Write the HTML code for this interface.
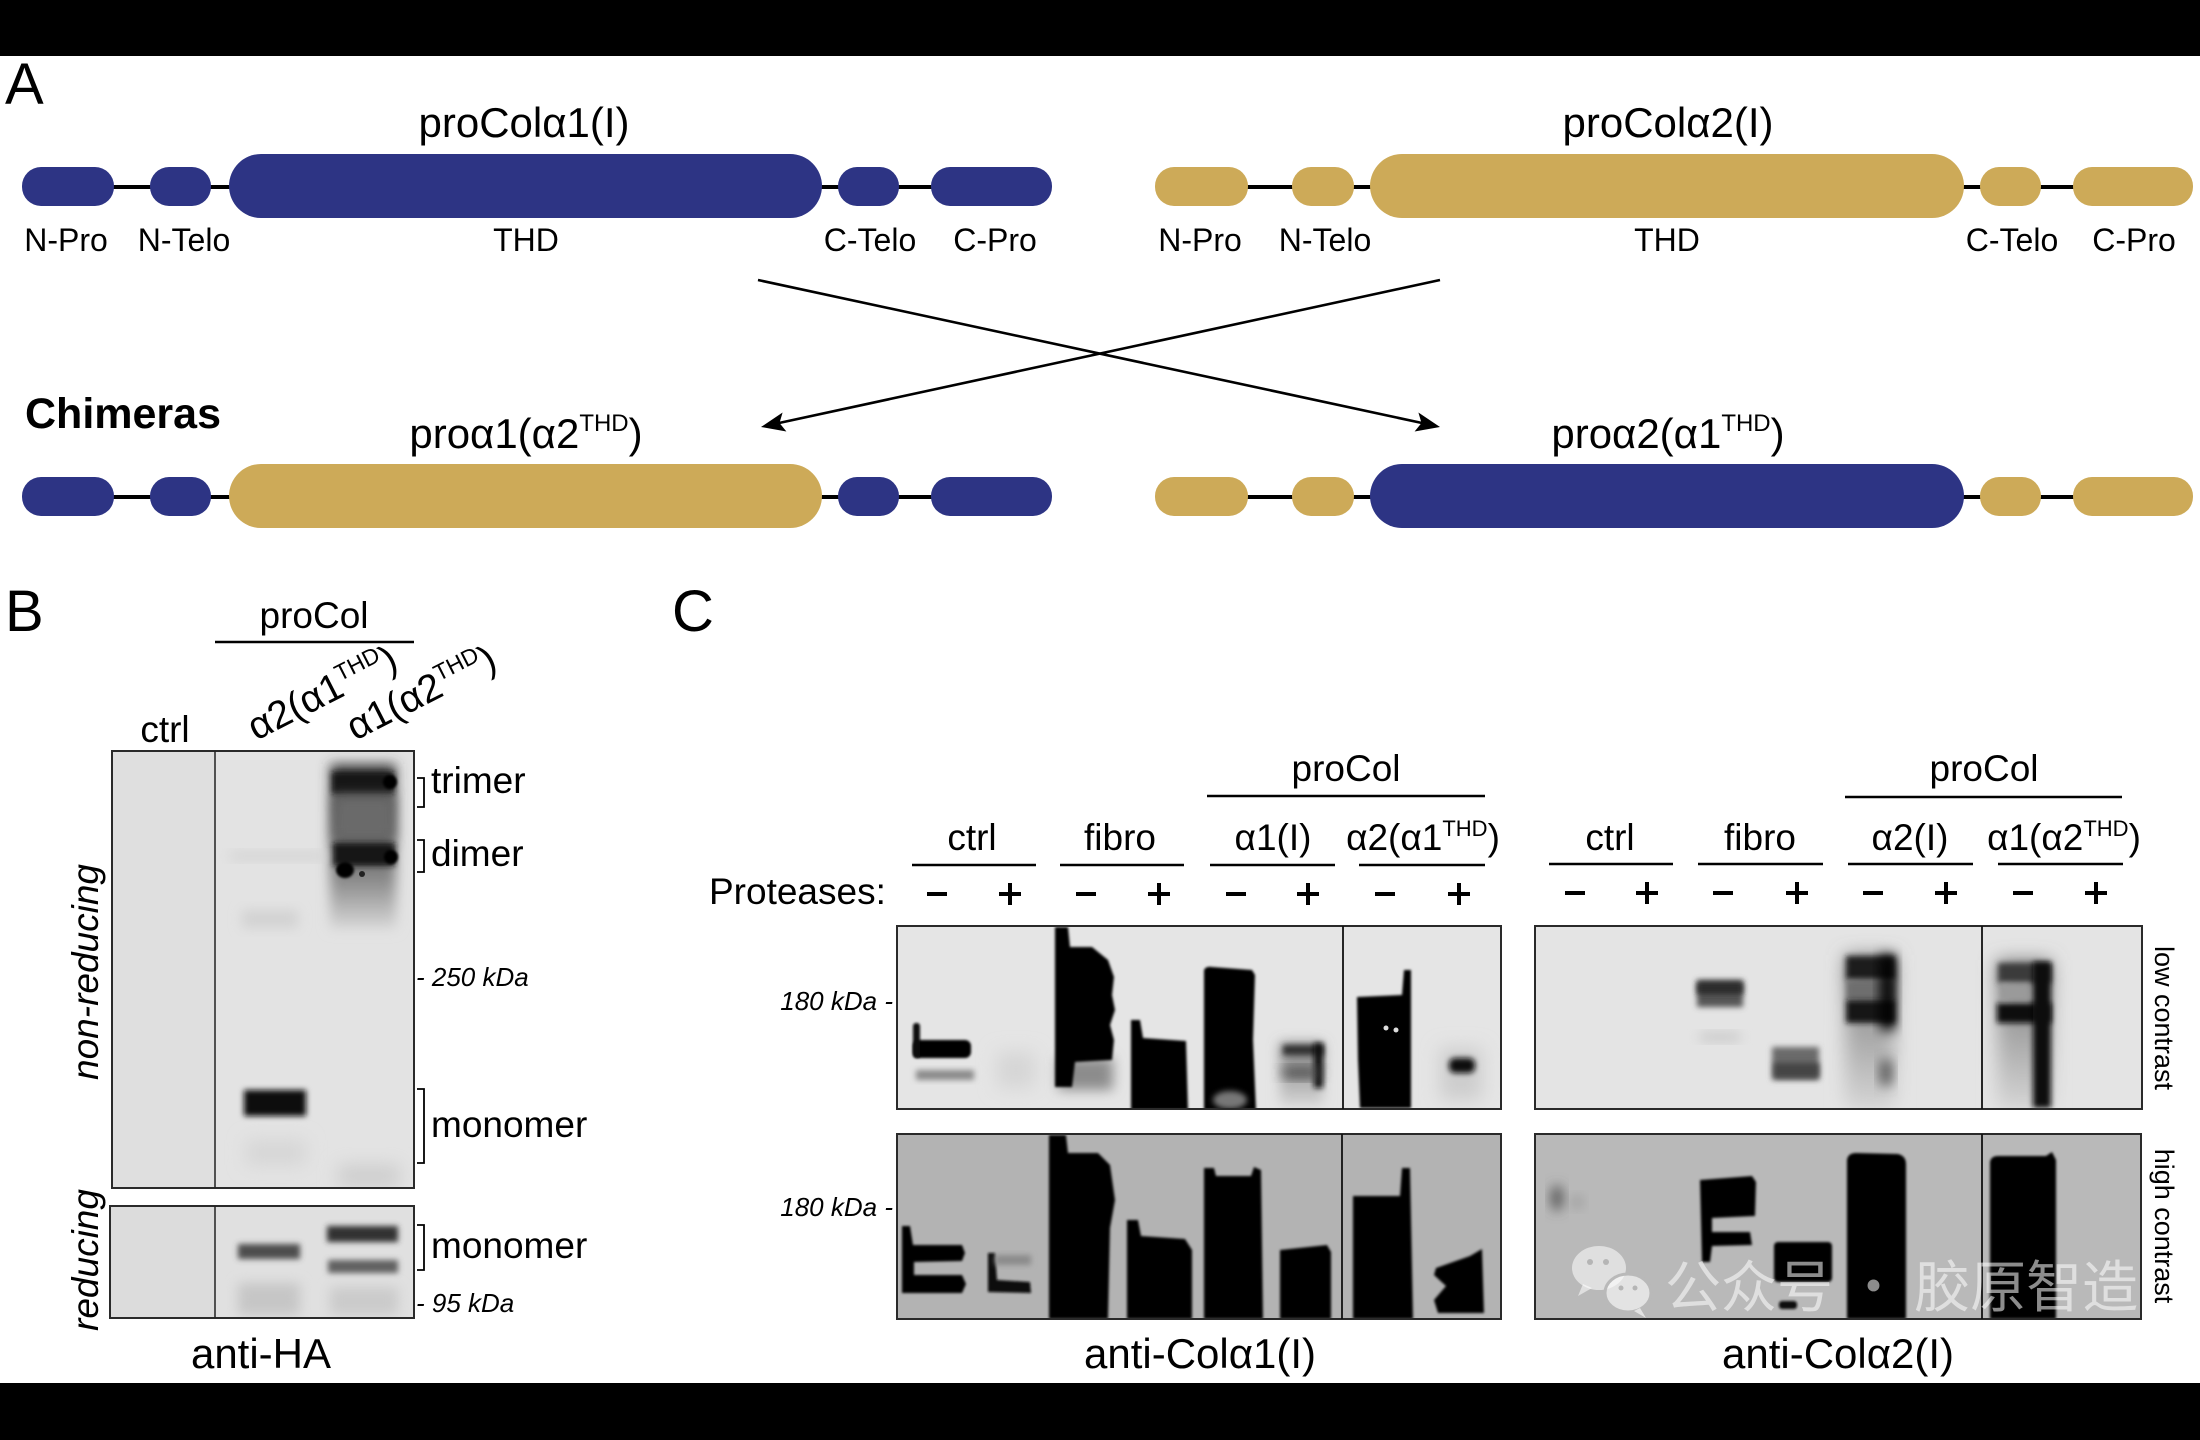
<!DOCTYPE html>
<html>
<head>
<meta charset="utf-8">
<style>
html,body{margin:0;padding:0;background:#fff;}
svg{display:block;}
text{font-family:"Liberation Sans","Noto Sans CJK SC",sans-serif;fill:#000;}
</style>
</head>
<body>
<svg width="2200" height="1440" viewBox="0 0 2200 1440" xmlns="http://www.w3.org/2000/svg">
<defs>
  <filter id="b1" x="-50%" y="-50%" width="200%" height="200%"><feGaussianBlur stdDeviation="1.2"/></filter>
  <filter id="b2" x="-50%" y="-50%" width="200%" height="200%"><feGaussianBlur stdDeviation="3"/></filter>
  <filter id="b3" x="-50%" y="-50%" width="200%" height="200%"><feGaussianBlur stdDeviation="6"/></filter>
  <filter id="b4" x="-80%" y="-80%" width="260%" height="260%"><feGaussianBlur stdDeviation="9"/></filter>
  <clipPath id="cB1"><rect x="112" y="751" width="302" height="437"/></clipPath>
  <clipPath id="cB2"><rect x="110" y="1206" width="304" height="112"/></clipPath>
  <clipPath id="cC1"><rect x="897" y="926" width="604" height="183"/></clipPath>
  <clipPath id="cC2"><rect x="1535" y="926" width="607" height="183"/></clipPath>
  <clipPath id="cC3"><rect x="897" y="1134" width="604" height="185"/></clipPath>
  <clipPath id="cC4"><rect x="1535" y="1134" width="606" height="185"/></clipPath>
  <linearGradient id="gSmear" x1="0" y1="0" x2="0" y2="1">
    <stop offset="0" stop-color="#3a3a3a"/>
    <stop offset="0.45" stop-color="#5e5e5e"/>
    <stop offset="0.7" stop-color="#8a8a8a"/>
    <stop offset="1" stop-color="#d8d8d8"/>
  </linearGradient>
  <linearGradient id="gFade" x1="0" y1="0" x2="0" y2="1">
    <stop offset="0" stop-color="#777"/>
    <stop offset="1" stop-color="#d6d6d6"/>
  </linearGradient>
</defs>

<!-- black bars -->
<rect x="0" y="0" width="2200" height="56" fill="#000"/>
<rect x="0" y="1383" width="2200" height="57" fill="#000"/>

<!-- ================= PANEL A ================= -->
<text x="5" y="104" font-size="58">A</text>

<text x="524" y="137" font-size="42" text-anchor="middle">proColα1(I)</text>
<text x="1668" y="137" font-size="42" text-anchor="middle">proColα2(I)</text>

<!-- row 1 left -->
<line x1="112" y1="187" x2="932" y2="187" stroke="#000" stroke-width="4"/>
<g fill="#2d3484">
  <rect x="22" y="167" width="92" height="39" rx="19" ry="19"/>
  <rect x="150" y="167" width="61" height="39" rx="19" ry="19"/>
  <rect x="229" y="154" width="593" height="64" rx="32" ry="32"/>
  <rect x="838" y="167" width="61" height="39" rx="19" ry="19"/>
  <rect x="931" y="167" width="121" height="39" rx="19" ry="19"/>
</g>
<!-- row 1 right -->
<line x1="1247" y1="187" x2="2074" y2="187" stroke="#000" stroke-width="4"/>
<g fill="#cdaa58">
  <rect x="1155" y="167" width="93" height="39" rx="19" ry="19"/>
  <rect x="1292" y="167" width="62" height="39" rx="19" ry="19"/>
  <rect x="1370" y="154" width="594" height="64" rx="32" ry="32"/>
  <rect x="1980" y="167" width="61" height="39" rx="19" ry="19"/>
  <rect x="2073" y="167" width="120" height="39" rx="19" ry="19"/>
</g>

<g font-size="32" text-anchor="middle">
  <text x="66" y="251">N-Pro</text>
  <text x="184" y="251">N-Telo</text>
  <text x="526" y="251">THD</text>
  <text x="870" y="251">C-Telo</text>
  <text x="995" y="251">C-Pro</text>
  <text x="1200" y="251">N-Pro</text>
  <text x="1325" y="251">N-Telo</text>
  <text x="1667" y="251">THD</text>
  <text x="2012" y="251">C-Telo</text>
  <text x="2134" y="251">C-Pro</text>
</g>

<!-- arrows -->
<line x1="758" y1="280" x2="1422" y2="423" stroke="#000" stroke-width="2.6"/>
<polygon points="1440,427 1414.6,431.5 1421.5,423 1418.4,412.5" fill="#000"/>
<line x1="1440" y1="280" x2="779" y2="423" stroke="#000" stroke-width="2.6"/>
<polygon points="761,427 786.4,431.5 779.5,423 782.6,412.5" fill="#000"/>

<text x="25" y="428" font-size="43" font-weight="bold">Chimeras</text>

<text x="526" y="448" font-size="42" text-anchor="middle">proα1(α2<tspan font-size="24" dy="-17">THD</tspan><tspan dy="17">)</tspan></text>
<text x="1668" y="448" font-size="42" text-anchor="middle">proα2(α1<tspan font-size="24" dy="-17">THD</tspan><tspan dy="17">)</tspan></text>

<!-- row 2 left -->
<line x1="112" y1="497" x2="932" y2="497" stroke="#000" stroke-width="4"/>
<g fill="#2d3484">
  <rect x="22" y="477" width="92" height="39" rx="19" ry="19"/>
  <rect x="150" y="477" width="61" height="39" rx="19" ry="19"/>
  <rect x="838" y="477" width="61" height="39" rx="19" ry="19"/>
  <rect x="931" y="477" width="121" height="39" rx="19" ry="19"/>
</g>
<rect x="229" y="464" width="593" height="64" rx="32" ry="32" fill="#cdaa58"/>
<!-- row 2 right -->
<line x1="1247" y1="497" x2="2074" y2="497" stroke="#000" stroke-width="4"/>
<g fill="#cdaa58">
  <rect x="1155" y="477" width="93" height="39" rx="19" ry="19"/>
  <rect x="1292" y="477" width="62" height="39" rx="19" ry="19"/>
  <rect x="1980" y="477" width="61" height="39" rx="19" ry="19"/>
  <rect x="2073" y="477" width="120" height="39" rx="19" ry="19"/>
</g>
<rect x="1370" y="464" width="594" height="64" rx="32" ry="32" fill="#2d3484"/>

<!-- ================= PANEL B ================= -->
<text x="5" y="631" font-size="58">B</text>
<text x="314" y="628" font-size="37" text-anchor="middle">proCol</text>
<line x1="215" y1="642" x2="414" y2="642" stroke="#000" stroke-width="2.5"/>
<text x="165" y="742" font-size="37" text-anchor="middle">ctrl</text>
<text transform="translate(256,741) rotate(-27)" font-size="39">α2(α1<tspan font-size="23" dy="-15">THD</tspan><tspan dy="15">)</tspan></text>
<text transform="translate(355,741) rotate(-27)" font-size="39">α1(α2<tspan font-size="23" dy="-15">THD</tspan><tspan dy="15">)</tspan></text>

<!-- blot B top -->
<rect x="112" y="751" width="302" height="437" fill="#e3e3e3"/>
<rect x="112" y="751" width="103" height="437" fill="#dfdfdf"/>
<g clip-path="url(#cB1)">
  <rect x="330" y="764" width="66" height="165" fill="url(#gSmear)" filter="url(#b3)"/>
  <rect x="332" y="772" width="62" height="22" fill="#151515" filter="url(#b2)"/>
  <rect x="334" y="795" width="60" height="45" fill="#6a6a6a" filter="url(#b3)"/>
  <rect x="333" y="843" width="62" height="23" fill="#151515" filter="url(#b2)"/>
  <circle cx="390" cy="782" r="7" fill="#000" filter="url(#b1)"/>
  <circle cx="391" cy="857" r="7" fill="#000" filter="url(#b1)"/>
  <ellipse cx="345" cy="870" rx="9" ry="8" fill="#000" filter="url(#b1)"/>
  <circle cx="362" cy="874" r="3" fill="#222"/>
  <rect x="230" y="852" width="95" height="8" fill="#d2d2d2" filter="url(#b3)"/>
  <rect x="242" y="910" width="56" height="18" fill="#d2d2d2" filter="url(#b3)"/>
  <rect x="244" y="1090" width="62" height="26" fill="#0a0a0a" filter="url(#b2)"/>
  <rect x="246" y="1140" width="60" height="25" fill="#d6d6d6" filter="url(#b4)"/>
  <rect x="338" y="1165" width="62" height="22" fill="#cdcdcd" filter="url(#b4)"/>
</g>
<rect x="112" y="751" width="302" height="437" fill="none" stroke="#2a2a2a" stroke-width="2"/>
<line x1="215" y1="751" x2="215" y2="1188" stroke="#222" stroke-width="1.5"/>

<!-- blot B bottom -->
<rect x="110" y="1206" width="304" height="112" fill="#e0e0e0"/>
<rect x="110" y="1206" width="105" height="112" fill="#dcdcdc"/>
<g clip-path="url(#cB2)">
  <rect x="238" y="1244" width="62" height="15" fill="#4e4e4e" filter="url(#b2)"/>
  <rect x="238" y="1283" width="62" height="32" fill="#c6c6c6" filter="url(#b3)"/>
  <rect x="327" y="1226" width="71" height="16" fill="#333" filter="url(#b2)"/>
  <rect x="328" y="1260" width="70" height="13" fill="#606060" filter="url(#b2)"/>
  <rect x="330" y="1287" width="68" height="28" fill="#cbcbcb" filter="url(#b3)"/>
</g>
<rect x="110" y="1206" width="304" height="112" fill="none" stroke="#2a2a2a" stroke-width="2"/>
<line x1="215" y1="1206" x2="215" y2="1318" stroke="#222" stroke-width="1.5"/>

<!-- brackets B -->
<g fill="none" stroke="#000" stroke-width="1.8">
  <path d="M417,778 H424 V807 H417"/>
  <path d="M417,840 H424 V872 H417"/>
  <path d="M417,1089 H424 V1163 H417"/>
  <path d="M417,1225 H424 V1270 H417"/>
</g>
<g font-size="37">
  <text x="431" y="793">trimer</text>
  <text x="431" y="866">dimer</text>
  <text x="431" y="1137">monomer</text>
  <text x="431" y="1258">monomer</text>
</g>
<g font-size="26" font-style="italic">
  <text x="416" y="986">- 250 kDa</text>
  <text x="416" y="1312">- 95 kDa</text>
</g>
<text transform="translate(98,972) rotate(-90)" font-size="37" font-style="italic" text-anchor="middle">non-reducing</text>
<text transform="translate(98,1260) rotate(-90)" font-size="37" font-style="italic" text-anchor="middle">reducing</text>
<text x="261" y="1368" font-size="42" text-anchor="middle">anti-HA</text>

<!-- ================= PANEL C ================= -->
<text x="672" y="631" font-size="58">C</text>

<g font-size="37" text-anchor="middle">
  <text x="1346" y="781">proCol</text>
  <text x="1984" y="781">proCol</text>
  <text x="972" y="850">ctrl</text>
  <text x="1120" y="850">fibro</text>
  <text x="1273" y="850">α1(I)</text>
  <text x="1423" y="850">α2(α1<tspan font-size="22" dy="-14">THD</tspan><tspan dy="14">)</tspan></text>
  <text x="1610" y="850">ctrl</text>
  <text x="1760" y="850">fibro</text>
  <text x="1910" y="850">α2(I)</text>
  <text x="2064" y="850">α1(α2<tspan font-size="22" dy="-14">THD</tspan><tspan dy="14">)</tspan></text>
</g>
<g stroke="#000" stroke-width="2.5">
  <line x1="1207" y1="796" x2="1485" y2="796"/>
  <line x1="1845" y1="797" x2="2122" y2="797"/>
  <line x1="912" y1="865" x2="1036" y2="865"/>
  <line x1="1060" y1="865" x2="1184" y2="865"/>
  <line x1="1210" y1="865" x2="1335" y2="865"/>
  <line x1="1359" y1="865" x2="1485" y2="865"/>
  <line x1="1549" y1="864" x2="1673" y2="864"/>
  <line x1="1698" y1="864" x2="1823" y2="864"/>
  <line x1="1848" y1="864" x2="1973" y2="864"/>
  <line x1="1998" y1="864" x2="2123" y2="864"/>
</g>
<text x="709" y="904" font-size="37">Proteases:</text>
<!-- minus / plus -->
<g fill="#000">
  <rect x="927" y="892" width="20" height="4"/>
  <rect x="1076" y="892" width="20" height="4"/>
  <rect x="1226" y="892" width="20" height="4"/>
  <rect x="1375" y="892" width="20" height="4"/>
  <rect x="1565" y="891" width="20" height="4"/>
  <rect x="1713" y="891" width="20" height="4"/>
  <rect x="1863" y="891" width="20" height="4"/>
  <rect x="2013" y="891" width="20" height="4"/>
  <rect x="999" y="892" width="22" height="4"/><rect x="1008" y="883" width="4" height="22"/>
  <rect x="1148" y="892" width="22" height="4"/><rect x="1157" y="883" width="4" height="22"/>
  <rect x="1297" y="892" width="22" height="4"/><rect x="1306" y="883" width="4" height="22"/>
  <rect x="1448" y="892" width="22" height="4"/><rect x="1457" y="883" width="4" height="22"/>
  <rect x="1636" y="891" width="22" height="4"/><rect x="1645" y="882" width="4" height="22"/>
  <rect x="1786" y="891" width="22" height="4"/><rect x="1795" y="882" width="4" height="22"/>
  <rect x="1935" y="891" width="22" height="4"/><rect x="1944" y="882" width="4" height="22"/>
  <rect x="2085" y="891" width="22" height="4"/><rect x="2094" y="882" width="4" height="22"/>
</g>

<g font-size="26" font-style="italic" text-anchor="end">
  <text x="893" y="1010">180 kDa -</text>
  <text x="893" y="1216">180 kDa -</text>
</g>

<!-- C top-left blot (low contrast, anti-Col a1) -->
<rect x="897" y="926" width="604" height="183" fill="#e5e5e5"/>
<g clip-path="url(#cC1)">
  <rect x="913" y="1040" width="58" height="18" rx="6" fill="#060606" filter="url(#b1)"/>
  <rect x="913" y="1023" width="7" height="35" rx="3" fill="#0a0a0a" filter="url(#b1)"/>
  <rect x="916" y="1070" width="58" height="10" fill="#8a8a8a" filter="url(#b2)"/>
  <rect x="997" y="1052" width="38" height="36" fill="#d6d6d6" filter="url(#b4)"/>
  <rect x="1058" y="1058" width="55" height="32" fill="#8c8c8c" filter="url(#b3)"/>
  <path d="M1055,927 L1068,927 L1070,947 L1092,947 L1108,960 L1114,977 L1112,995 L1115,1010 L1110,1025 L1114,1040 L1112,1060 L1075,1062 L1072,1087 L1055,1087 Z" fill="#050505" filter="url(#b1)"/>
  <path d="M1131,1020 L1140,1020 L1143,1038 L1186,1041 L1188,1110 L1131,1110 Z" fill="#050505" filter="url(#b1)"/>
  <path d="M1204,970 Q1206,966 1212,967 L1252,970 L1255,975 L1253,1040 L1256,1110 L1204,1110 Z" fill="#050505" filter="url(#b1)"/>
  <ellipse cx="1230" cy="1100" rx="17" ry="9" fill="#777" filter="url(#b2)"/>
  <rect x="1280" y="1043" width="43" height="63" fill="url(#gFade)" filter="url(#b3)"/>
  <rect x="1283" y="1045" width="40" height="10" fill="#333" filter="url(#b2)"/>
  <rect x="1314" y="1043" width="9" height="45" fill="#111" filter="url(#b2)"/>
  <rect x="1283" y="1068" width="36" height="10" fill="#444" filter="url(#b3)"/>
  <path d="M1357,997 L1402,995 L1404,970 L1411,970 L1411,1108 L1360,1108 L1358,1060 Z" fill="#050505" filter="url(#b1)"/>
  <circle cx="1386" cy="1028" r="2.5" fill="#ddd"/>
  <circle cx="1396" cy="1030" r="2.5" fill="#ddd"/>
  <rect x="1440" y="1048" width="42" height="52" fill="#cdcdcd" filter="url(#b4)"/>
  <rect x="1449" y="1058" width="26" height="15" rx="6" fill="#0a0a0a" filter="url(#b2)"/>
</g>
<rect x="897" y="926" width="604" height="183" fill="none" stroke="#2a2a2a" stroke-width="2"/>
<line x1="1343" y1="926" x2="1343" y2="1109" stroke="#111" stroke-width="1.8"/>

<!-- C top-right blot (low contrast, anti-Col a2) -->
<rect x="1535" y="926" width="607" height="183" fill="#e4e4e4"/>
<g clip-path="url(#cC2)">
  <rect x="1697" y="980" width="46" height="27" fill="#555" filter="url(#b2)"/>
  <rect x="1697" y="982" width="46" height="12" fill="#2a2a2a" filter="url(#b2)"/>
  <rect x="1700" y="1033" width="40" height="8" fill="#c4c4c4" filter="url(#b3)"/>
  <rect x="1772" y="1047" width="47" height="33" fill="#6a6a6a" filter="url(#b2)"/>
  <rect x="1774" y="1063" width="45" height="15" fill="#444" filter="url(#b2)"/>
  <rect x="1845" y="955" width="50" height="155" fill="url(#gFade)" filter="url(#b4)"/>
  <rect x="1846" y="956" width="49" height="24" fill="#1a1a1a" filter="url(#b2)"/>
  <rect x="1846" y="980" width="49" height="20" fill="#6e6e6e" filter="url(#b2)"/>
  <rect x="1846" y="1000" width="49" height="23" fill="#151515" filter="url(#b2)"/>
  <rect x="1880" y="955" width="15" height="75" fill="#000" filter="url(#b3)"/>
  <rect x="1880" y="1060" width="12" height="25" fill="#555" filter="url(#b3)"/>
  <rect x="1997" y="960" width="54" height="150" fill="url(#gFade)" filter="url(#b4)"/>
  <rect x="1998" y="963" width="53" height="20" fill="#3a3a3a" filter="url(#b2)"/>
  <rect x="1997" y="1003" width="54" height="20" fill="#111" filter="url(#b2)"/>
  <rect x="2033" y="962" width="18" height="146" fill="#0a0a0a" filter="url(#b2)"/>
  <rect x="2000" y="983" width="30" height="18" fill="#9a9a9a" filter="url(#b2)"/>
</g>
<rect x="1535" y="926" width="607" height="183" fill="none" stroke="#2a2a2a" stroke-width="2"/>
<line x1="1982" y1="926" x2="1982" y2="1109" stroke="#111" stroke-width="1.8"/>

<!-- C lower-left blot (high contrast) -->
<rect x="897" y="1134" width="604" height="185" fill="#b3b3b3"/>
<g clip-path="url(#cC3)">
  <path d="M902,1226 L910,1226 L913,1245 L962,1245 L965,1253 L962,1261 L914,1262 L914,1275 L962,1275 L966,1284 L962,1293 L902,1293 Z" fill="#050505" filter="url(#b1)"/>
  <path d="M988,1253 L995,1253 L997,1280 L1030,1282 L1031,1293 L988,1292 Z" fill="#0a0a0a" filter="url(#b1)"/>
  <rect x="995" y="1255" width="36" height="10" fill="#8a8a8a" filter="url(#b2)"/>
  <path d="M1049,1135 L1066,1135 L1068,1153 L1098,1153 L1110,1165 L1115,1200 L1110,1228 L1108,1319 L1049,1319 Z" fill="#050505" filter="url(#b1)"/>
  <path d="M1127,1220 L1138,1220 L1141,1236 L1185,1239 L1192,1250 L1192,1319 L1127,1319 Z" fill="#050505" filter="url(#b1)"/>
  <path d="M1204,1168 L1214,1168 L1216,1176 L1251,1176 L1254,1167 L1261,1170 L1263,1319 L1204,1319 Z" fill="#050505" filter="url(#b1)"/>
  <path d="M1280,1250 L1327,1245 L1331,1252 L1331,1319 L1280,1319 Z" fill="#050505" filter="url(#b1)"/>
  <path d="M1353,1196 L1400,1196 L1402,1168 L1410,1168 L1413,1319 L1353,1319 Z" fill="#050505" filter="url(#b1)"/>
  <path d="M1436,1268 L1470,1256 L1482,1249 L1484,1313 L1438,1313 L1434,1300 L1446,1286 L1434,1275 Z" fill="#050505" filter="url(#b1)"/>
</g>
<rect x="897" y="1134" width="604" height="185" fill="none" stroke="#2a2a2a" stroke-width="2"/>
<line x1="1342" y1="1134" x2="1342" y2="1319" stroke="#111" stroke-width="1.8"/>

<!-- C lower-right blot (high contrast) -->
<rect x="1535" y="1134" width="606" height="185" fill="#b9b9b9"/>
<g clip-path="url(#cC4)">
  <ellipse cx="1557" cy="1198" rx="6" ry="13" fill="#555" filter="url(#b3)"/>
  <ellipse cx="1577" cy="1202" rx="6" ry="6" fill="#999" filter="url(#b3)"/>
  <path d="M1700,1180 L1752,1176 L1756,1182 L1755,1216 L1712,1218 L1712,1232 L1750,1232 L1752,1245 L1712,1246 L1710,1262 L1702,1262 Z" fill="#050505" filter="url(#b1)"/>
  <rect x="1774" y="1242" width="58" height="40" rx="4" fill="#050505" filter="url(#b1)"/>
  <rect x="1779" y="1301" width="18" height="8" rx="3" fill="#111" filter="url(#b1)"/>
  <path d="M1847,1160 Q1848,1153 1856,1153 L1898,1154 Q1906,1156 1906,1164 L1906,1319 L1847,1319 Z" fill="#050505" filter="url(#b1)"/>
  <path d="M1990,1162 Q1991,1156 1998,1156 L2046,1156 L2052,1152 L2056,1160 L2056,1319 L1990,1319 Z" fill="#050505" filter="url(#b1)"/>
</g>
<rect x="1535" y="1134" width="606" height="185" fill="none" stroke="#2a2a2a" stroke-width="2"/>
<line x1="1982" y1="1134" x2="1982" y2="1319" stroke="#111" stroke-width="1.8"/>

<!-- contrast labels -->
<text transform="translate(2155,1018) rotate(90)" font-size="27" text-anchor="middle">low contrast</text>
<text transform="translate(2155,1226) rotate(90)" font-size="27" text-anchor="middle">high contrast</text>

<text x="1200" y="1368" font-size="42" text-anchor="middle">anti-Colα1(I)</text>
<text x="1838" y="1368" font-size="42" text-anchor="middle">anti-Colα2(I)</text>

<!-- watermark -->
<g fill="#ffffff" fill-opacity="0.55">
  <ellipse cx="1599" cy="1268" rx="27" ry="22"/>
  <path d="M1583,1284 L1578,1296 L1592,1288 Z"/>
</g>
<g fill="#ffffff" fill-opacity="0.6" stroke="#b9b9b9" stroke-width="3">
  <ellipse cx="1628" cy="1293" rx="23" ry="19"/>
</g>
<path d="M1640,1308 L1646,1318 L1634,1311 Z" fill="#ffffff" fill-opacity="0.6"/>
<g fill="#b5b5b5">
  <circle cx="1590" cy="1262" r="3"/><circle cx="1606" cy="1262" r="3"/>
  <circle cx="1621" cy="1288" r="2.5"/><circle cx="1635" cy="1288" r="2.5"/>
</g>
<text x="1665" y="1307" font-size="56" style="font-family:'Noto Sans CJK SC','WenQuanYi Zen Hei',sans-serif;fill:#fff;fill-opacity:0.55">公众号 · 胶原智造</text>

</svg>
</body>
</html>
